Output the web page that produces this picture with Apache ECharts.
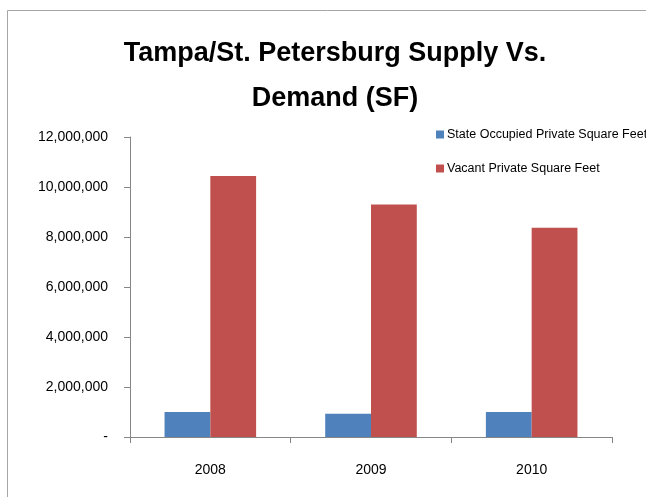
<!DOCTYPE html>
<html>
<head>
<meta charset="utf-8">
<script src="https://cdn.jsdelivr.net/npm/echarts@6/dist/echarts.min.js"></script>
<style>
  html, body { margin: 0; padding: 0; background: #fff; }
  #chart { width: 646px; height: 497px; }
</style>
</head>
<body>
<div id="chart"></div>
<script>
var years = ['2008', '2009', '2010'];
var occupied = [1000000, 930000, 1000000];
var vacant = [10440000, 9300000, 8370000];

var font = '"Liberation Sans Narrow", "Liberation Sans", sans-serif';

var chart = echarts.init(document.getElementById('chart'));
var option = {
  backgroundColor: '#ffffff',
  animation: false,
  textStyle: { fontFamily: font },
  title: {
    text: 'Tampa/St. Petersburg Supply Vs.\nDemand (SF)',
    left: 330,
    textAlign: 'center',
    top: 26,
    textStyle: {
      fontFamily: font,
      fontSize: 27,
      fontWeight: 'bold',
      color: '#000',
      lineHeight: 45
    }
  },
  legend: {
    orient: 'vertical',
    left: 431,
    top: 123,
    itemWidth: 8,
    itemHeight: 8,
    itemGap: 21,
    icon: 'rect',
    textStyle: { fontFamily: font, fontSize: 12.5, color: '#000', padding: [0, 0, 0, -2] },
    data: ['State Occupied Private Square Feet', 'Vacant Private Square Feet']
  },
  graphic: [{
    type: 'rect',
    shape: { x: 7.5, y: 10.5, width: 700, height: 600 },
    style: { fill: 'none', stroke: '#a6a6a6', lineWidth: 1 }
  }],
  grid: { left: 130, right: 34, top: 137, bottom: 60 },
  xAxis: {
    type: 'category',
    data: years,
    axisLine: { lineStyle: { color: '#868686' } },
    axisTick: { show: true, length: 6, lineStyle: { color: '#868686' } },
    axisLabel: { color: '#000', fontSize: 14, margin: 26, fontFamily: font }
  },
  yAxis: {
    type: 'value',
    min: 0,
    max: 12000000,
    interval: 2000000,
    axisLine: { show: true, lineStyle: { color: '#868686' } },
    axisTick: { show: true, length: 6, lineStyle: { color: '#868686' } },
    splitLine: { show: false },
    axisLabel: {
      color: '#000',
      fontSize: 14,
      margin: 22,
      fontFamily: font,
      formatter: function (v) {
        return v === 0 ? '-' : v.toLocaleString('en-US');
      }
    }
  },
  series: [
    {
      name: 'State Occupied Private Square Feet',
      type: 'bar',
      data: occupied,
      barGap: '0%',
      barCategoryGap: '43%',
      itemStyle: { color: '#4F81BD' }
    },
    {
      name: 'Vacant Private Square Feet',
      type: 'bar',
      data: vacant,
      barGap: '0%',
      barCategoryGap: '43%',
      itemStyle: { color: '#C0504D' }
    }
  ]
};
option && chart.setOption(option);
</script>
</body>
</html>
